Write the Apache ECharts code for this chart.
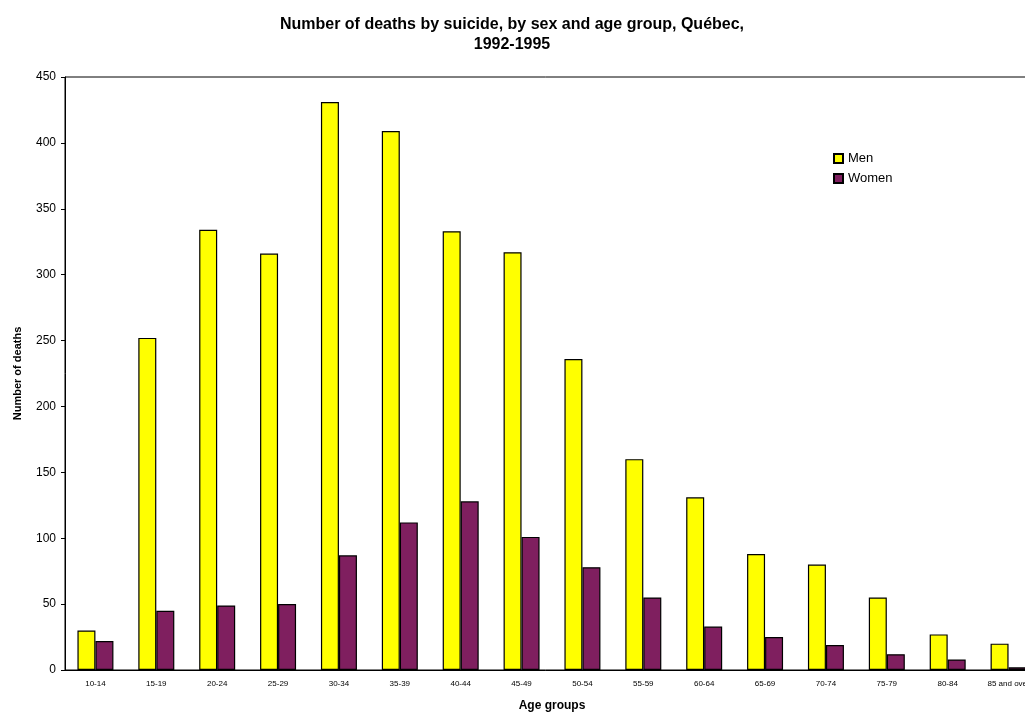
<!DOCTYPE html>
<html>
<head>
<meta charset="utf-8">
<script src="https://cdn.jsdelivr.net/npm/echarts@6/dist/echarts.min.js"></script>
<style>
  html, body { margin: 0; padding: 0; background: #fff; }
  #chart { width: 1025px; height: 713px; }
</style>
</head>
<body>
<div id="chart"></div>
<script>
// Suicide deaths in Québec, 1992-1995, by age group and sex
const ageGroups = ['10-14', '15-19', '20-24', '25-29', '30-34', '35-39', '40-44', '45-49',
  '50-54', '55-59', '60-64', '65-69', '70-74', '75-79', '80-84', '85 and over'];
const men = [30, 252, 334, 316, 431, 409, 333, 317, 236, 160, 131, 88, 80, 55, 27, 20];
const women = [22, 45, 49, 50, 87, 112, 128, 101, 78, 55, 33, 25, 19, 12, 8, 2];
const yTicks = { min: 0, max: 450, interval: 50 };

const font = '"Liberation Sans", Arial, sans-serif';
const chart = echarts.init(document.getElementById('chart'));

chart.setOption({
  backgroundColor: '#ffffff',
  animation: false,
  title: {
    text: 'Number of deaths by suicide, by sex and age group, Québec,\n1992-1995',
    left: 507,
    textAlign: 'center',
    top: 10,
    textStyle: { fontFamily: font, fontSize: 16, fontWeight: 'bold', color: '#000', lineHeight: 20 }
  },
  legend: {
    orient: 'vertical',
    left: 828,
    top: 147,
    itemWidth: 9,
    itemHeight: 9,
    itemGap: 7,
    icon: 'rect',
    textStyle: { fontFamily: font, fontSize: 13, color: '#000' },
    data: ['Men', 'Women']
  },
  grid: {
    left: 65,
    top: 77,
    width: 974,
    height: 593,
    outerBoundsMode: 'none',
    containLabel: false,
    show: true,
    borderColor: '#000',
    borderWidth: 1,
    backgroundColor: 'transparent'
  },
  xAxis: {
    type: 'category',
    data: ageGroups,
    name: 'Age groups',
    nameLocation: 'middle',
    nameGap: 30,
    nameTextStyle: { fontFamily: font, fontSize: 12, fontWeight: 'bold', color: '#000' },
    axisLine: { lineStyle: { color: '#000', width: 1 } },
    axisTick: { show: false },
    axisLabel: { fontFamily: font, fontSize: 8, color: '#000', margin: 10, interval: 0 }
  },
  yAxis: {
    type: 'value',
    min: yTicks.min,
    max: yTicks.max,
    interval: yTicks.interval,
    name: 'Number of deaths',
    nameLocation: 'middle',
    nameGap: 42,
    nameTextStyle: { fontFamily: font, fontSize: 11, fontWeight: 'bold', color: '#000' },
    axisLine: { show: true, lineStyle: { color: '#000', width: 1 } },
    axisTick: { show: true, length: 4, lineStyle: { color: '#000' } },
    splitLine: { show: false },
    axisLabel: { fontFamily: font, fontSize: 12, color: '#000', margin: 9 }
  },
  series: [
    {
      name: 'Men',
      type: 'bar',
      data: men,
      barWidth: 18,
      barGap: '0%',
      itemStyle: { color: '#ffff00', borderColor: '#000', borderWidth: 1.2 }
    },
    {
      name: 'Women',
      type: 'bar',
      data: women,
      barWidth: 18,
      barGap: '0%',
      itemStyle: { color: '#7f1f5f', borderColor: '#000', borderWidth: 1.2 }
    }
  ]
});
</script>
</body>
</html>
